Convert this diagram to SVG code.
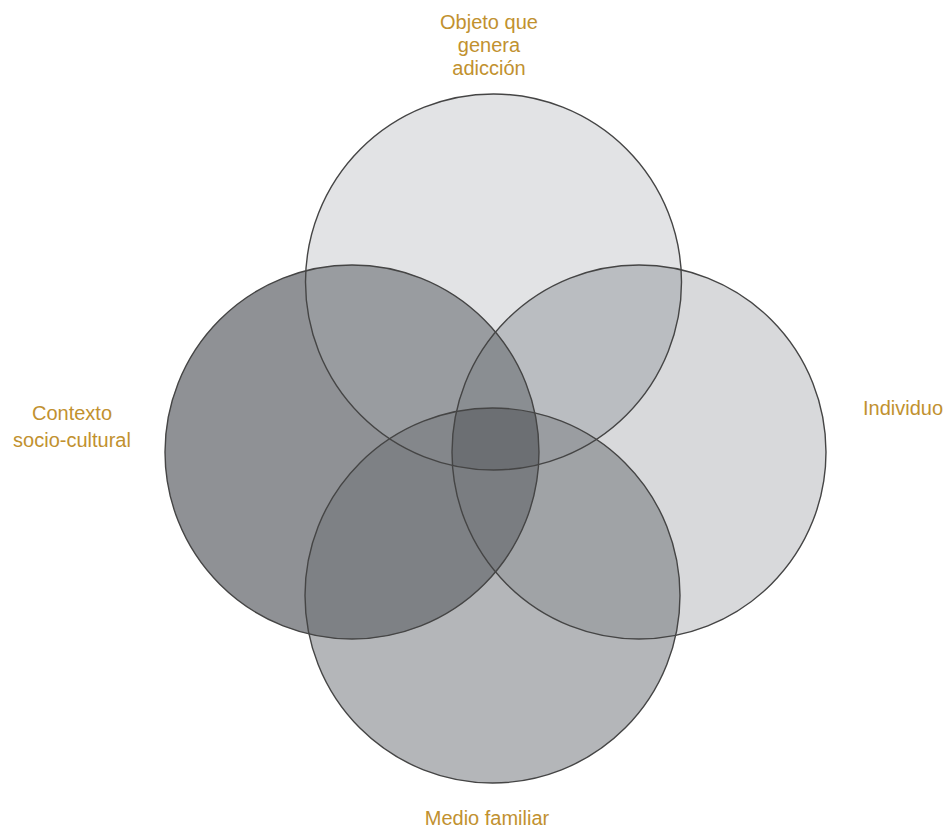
<svg xmlns="http://www.w3.org/2000/svg" xmlns:xlink="http://www.w3.org/1999/xlink" width="946" height="829" viewBox="0 0 946 829">
<style>
.lbl{font-family:"Liberation Sans",Arial,sans-serif;font-size:20px;fill:#c1912f;text-anchor:middle}
.ring{fill:none;stroke:#454545;stroke-width:1.4}
</style>
<defs>
<circle id="cT" cx="493.5" cy="282" r="188"/>
<circle id="cL" cx="352" cy="452" r="187"/>
<circle id="cR" cx="639" cy="452" r="187"/>
<circle id="cB" cx="492.5" cy="595.5" r="187.5"/>
<clipPath id="kT"><use xlink:href="#cT"/></clipPath>
<clipPath id="kL"><use xlink:href="#cL"/></clipPath>
<clipPath id="kR"><use xlink:href="#cR"/></clipPath>
<clipPath id="kB"><use xlink:href="#cB"/></clipPath>
</defs>
<rect width="946" height="829" fill="#ffffff"/>
<g id="fills">
<use xlink:href="#cT" fill="#e2e3e5"/>
<use xlink:href="#cR" fill="#d8d9db"/>
<use xlink:href="#cB" fill="#b4b6b9"/>
<use xlink:href="#cL" fill="#8f9195"/>
<g clip-path="url(#kT)"><use xlink:href="#cL" fill="#999ca0"/></g>
<g clip-path="url(#kT)"><use xlink:href="#cR" fill="#babdc1"/></g>
<g clip-path="url(#kL)"><use xlink:href="#cB" fill="#7e8185"/></g>
<g clip-path="url(#kR)"><use xlink:href="#cB" fill="#a0a3a6"/></g>
<g clip-path="url(#kL)"><use xlink:href="#cR" fill="#6d7074"/></g>
<g clip-path="url(#kT)"><g clip-path="url(#kL)"><use xlink:href="#cR" fill="#8a8e92"/></g></g>
<g clip-path="url(#kT)"><g clip-path="url(#kL)"><use xlink:href="#cB" fill="#84878b"/></g></g>
<g clip-path="url(#kT)"><g clip-path="url(#kR)"><use xlink:href="#cB" fill="#9a9da1"/></g></g>
<g clip-path="url(#kL)"><g clip-path="url(#kR)"><use xlink:href="#cB" fill="#7a7d81"/></g></g>
<g clip-path="url(#kT)"><g clip-path="url(#kL)"><g clip-path="url(#kR)"><use xlink:href="#cB" fill="#6c6f73"/></g></g></g>
</g>
<g id="connectors"></g>
<g id="objeto">
<use xlink:href="#cT" class="ring"/>
<text class="lbl" x="489" y="29">Objeto que</text>
<text class="lbl" x="489" y="52">genera</text>
<text class="lbl" x="489" y="75">adicción</text>
</g>
<g id="contexto">
<use xlink:href="#cL" class="ring"/>
<text class="lbl" x="72" y="420">Contexto</text>
<text class="lbl" x="72" y="447">socio-cultural</text>
</g>
<g id="individuo">
<use xlink:href="#cR" class="ring"/>
<text class="lbl" x="903" y="415">Individuo</text>
</g>
<g id="medio">
<use xlink:href="#cB" class="ring"/>
<text class="lbl" x="487" y="825">Medio familiar</text>
</g>
</svg>
